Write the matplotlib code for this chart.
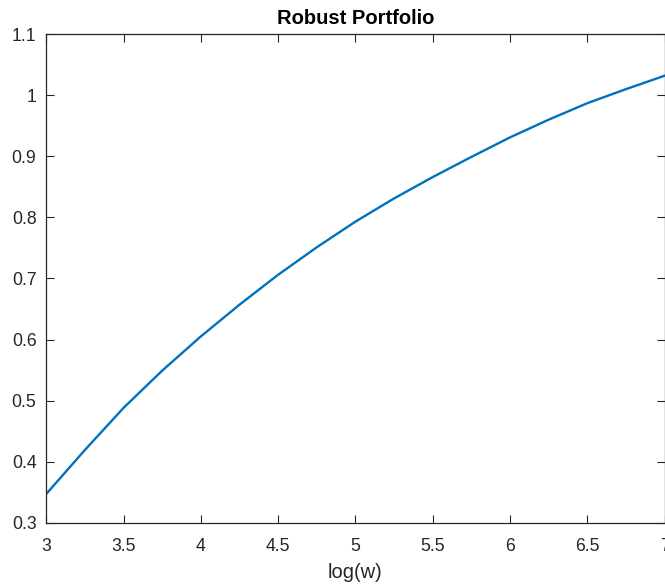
import matplotlib
matplotlib.use("Agg")
import matplotlib.pyplot as plt

# values
log_w = [3.0, 3.25, 3.5, 3.75, 4.0, 4.25, 4.5, 4.75, 5.0,
         5.25, 5.5, 5.75, 6.0, 6.25, 6.5, 6.75, 7.0]
value = [0.347, 0.419, 0.488, 0.549, 0.605, 0.657, 0.706, 0.751, 0.793,
         0.831, 0.866, 0.899, 0.931, 0.960, 0.987, 1.010, 1.032]

x_ticks = [3, 3.5, 4, 4.5, 5, 5.5, 6, 6.5, 7]
x_tick_labels = ["3", "3.5", "4", "4.5", "5", "5.5", "6", "6.5", "7"]
y_ticks = [0.3, 0.4, 0.5, 0.6, 0.7, 0.8, 0.9, 1.0, 1.1]
y_tick_labels = ["0.3", "0.4", "0.5", "0.6", "0.7", "0.8", "0.9", "1", "1.1"]

plt.rcParams["font.family"] = ["Liberation Sans", "DejaVu Sans"]
axis_color = "#262626"

fig = plt.figure(figsize=(6.65, 5.85), dpi=100)
ax = fig.add_axes([0.0695, 0.1065, 0.9298, 0.835])

ax.plot(log_w, value, color="#0072BD", linewidth=1.7,
        solid_joinstyle="round")

ax.set_xlim(3, 7)
ax.set_ylim(0.3, 1.1)
ax.set_xticks(x_ticks)
ax.set_xticklabels(x_tick_labels)
ax.set_yticks(y_ticks)
ax.set_yticklabels(y_tick_labels)

ax.tick_params(direction="in", length=6, width=0.8, top=True, right=True,
               colors=axis_color, labelsize=12.7, pad=7)
ax.tick_params(axis="x", pad=11)
for s in ax.spines.values():
    s.set_color(axis_color)
    s.set_linewidth(0.9)

ax.set_xlabel("log(w)", fontsize=14.5, color=axis_color, labelpad=6)
ax.set_title("Robust Portfolio", fontsize=14.5, fontweight="bold", pad=7.5)

fig.savefig("out.png", dpi=100)
